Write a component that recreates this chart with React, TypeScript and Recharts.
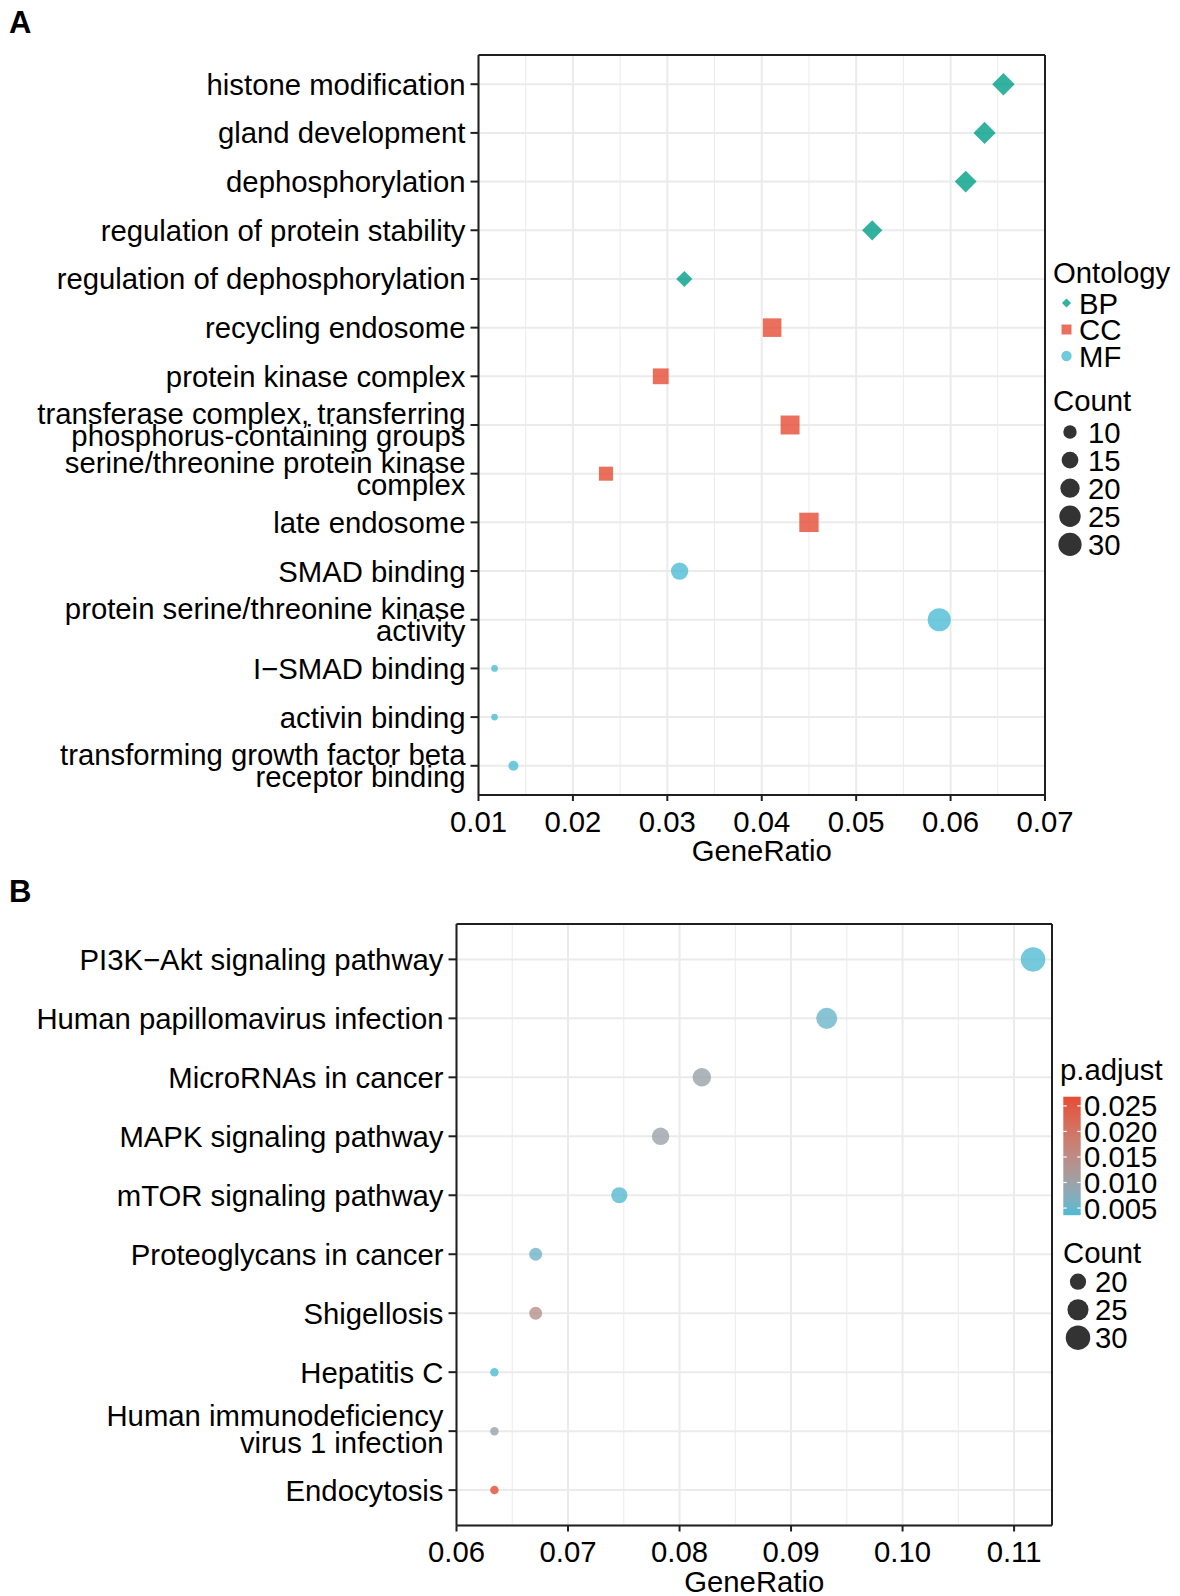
import React from 'react';
import { ScatterChart, Scatter, XAxis, YAxis, CartesianGrid, Legend, ReferenceArea } from 'recharts';

const FONT = '"Liberation Sans", Arial, Helvetica, sans-serif';
const FS = 29.3;
const CAP_MID = 10.5;
const INK = '#000000';
const FRAME = '#1f1f1f';
const GRID = '#EBEBEB';

// ---------- Panel A : GO enrichment ----------
const BP_TERMS = [
  'histone modification',
  'gland development',
  'dephosphorylation',
  'regulation of protein stability',
  'regulation of dephosphorylation',
];
const BP_RATIO = [0.0656, 0.0636, 0.0616, 0.0517, 0.0318];
const BP_COUNT = [33, 32, 31, 26, 16];

const CC_TERMS = [
  'recycling endosome',
  'protein kinase complex',
  'transferase complex, transferring\nphosphorus-containing groups',
  'serine/threonine protein kinase\ncomplex',
  'late endosome',
];
const CC_RATIO = [0.0411, 0.0293, 0.043, 0.0235, 0.045];
const CC_COUNT = [21, 15, 22, 12, 23];

const MF_TERMS = [
  'SMAD binding',
  'protein serine/threonine kinase\nactivity',
  'I\u2212SMAD binding',
  'activin binding',
  'transforming growth factor beta\nreceptor binding',
];
const MF_RATIO = [0.0313, 0.0588, 0.0117, 0.0117, 0.0137];
const MF_COUNT = [16, 30, 6, 6, 7];

const A_TICKS = [0.01, 0.02, 0.03, 0.04, 0.05, 0.06, 0.07];
const A_MINOR = [0.015, 0.025, 0.035, 0.045, 0.055, 0.065];
const A_COUNT_BREAKS = [10, 15, 20, 25, 30];
const ONTOLOGY_KEYS = ['BP', 'CC', 'MF'];

// ---------- Panel B : KEGG enrichment ----------
const KEGG_TERMS = [
  'PI3K\u2212Akt signaling pathway',
  'Human papillomavirus infection',
  'MicroRNAs in cancer',
  'MAPK signaling pathway',
  'mTOR signaling pathway',
  'Proteoglycans in cancer',
  'Shigellosis',
  'Hepatitis C',
  'Human immunodeficiency\nvirus 1 infection',
  'Endocytosis',
];
const KEGG_RATIO = [0.1117, 0.0932, 0.082, 0.0783, 0.0746, 0.0671, 0.0671, 0.0634, 0.0634, 0.0634];
const KEGG_COUNT = [30, 25, 22, 21, 20, 18, 18, 17, 17, 17];
const KEGG_PADJ = [0.0039, 0.0052, 0.0096, 0.0098, 0.004, 0.0056, 0.0142, 0.0036, 0.0097, 0.0268];

const B_TICKS = [0.06, 0.07, 0.08, 0.09, 0.1, 0.11];
const B_MINOR = [0.065, 0.075, 0.085, 0.095, 0.105];
const PADJ_BREAKS = [0.025, 0.02, 0.015, 0.01, 0.005];
const B_COUNT_BREAKS = [20, 25, 30];

// ---------- styles ----------
const BP_COLOR = '#00A087';
const CC_COLOR = '#E64B35';
const MF_COLOR = '#4DBBD5';
const LOW_COLOR = '#4DBBD5';
const HIGH_COLOR = '#E64B35';
const ALPHA = 0.8;
const KEY_DARK = '#333333';

// size scales (diameter in px), area-style like ggplot scale_size
const sizeA = (c: number) => 6.7 + 17.5 * Math.sqrt(Math.max(0, c - 6) / 27);
const sizeB = (c: number) => 8.5 + 16 * Math.sqrt(Math.max(0, c - 17) / 13);

// ---------- Lab colour interpolation ----------
const hexToRgb = (h: string) => [1, 3, 5].map((i) => parseInt(h.slice(i, i + 2), 16));
const toLin = (c: number) => {
  const v = c / 255;
  return v <= 0.04045 ? v / 12.92 : Math.pow((v + 0.055) / 1.055, 2.4);
};
const fromLin = (c: number) => {
  const v = c <= 0.0031308 ? 12.92 * c : 1.055 * Math.pow(c, 1 / 2.4) - 0.055;
  return Math.round(Math.max(0, Math.min(1, v)) * 255);
};
const rgbToLab = (rgb: number[]) => {
  const [R, G, B] = rgb.map(toLin);
  const X = (0.4124 * R + 0.3576 * G + 0.1805 * B) / 0.95047;
  const Y = 0.2126 * R + 0.7152 * G + 0.0722 * B;
  const Z = (0.0193 * R + 0.1192 * G + 0.9505 * B) / 1.08883;
  const f = (t: number) => (t > 0.008856 ? Math.cbrt(t) : 7.787 * t + 16 / 116);
  return [116 * f(Y) - 16, 500 * (f(X) - f(Y)), 200 * (f(Y) - f(Z))];
};
const labToHex = (lab: number[]) => {
  const [L, a, b] = lab;
  const fy = (L + 16) / 116;
  const fx = fy + a / 500;
  const fz = fy - b / 200;
  const inv = (t: number) => (t * t * t > 0.008856 ? t * t * t : (t - 16 / 116) / 7.787);
  const X = inv(fx) * 0.95047;
  const Y = inv(fy);
  const Z = inv(fz) * 1.08883;
  const R = 3.2406 * X - 1.5372 * Y - 0.4986 * Z;
  const G = -0.9689 * X + 1.8758 * Y + 0.0415 * Z;
  const B = 0.0557 * X - 0.204 * Y + 1.057 * Z;
  return '#' + [R, G, B].map((c) => fromLin(c).toString(16).padStart(2, '0')).join('');
};
const LAB_LOW = rgbToLab(hexToRgb(LOW_COLOR));
const LAB_HIGH = rgbToLab(hexToRgb(HIGH_COLOR));
const PADJ_MIN = Math.min(...KEGG_PADJ);
const PADJ_MAX = Math.max(...KEGG_PADJ);
const padjColor = (p: number) => {
  const t = Math.max(0, Math.min(1, (p - PADJ_MIN) / (PADJ_MAX - PADJ_MIN)));
  return labToHex(LAB_LOW.map((v, i) => v + (LAB_HIGH[i] - v) * t));
};

// ---------- data tables ----------
const bpData = BP_TERMS.map((term, i) => ({ term, ratio: BP_RATIO[i], count: BP_COUNT[i] }));
const ccData = CC_TERMS.map((term, i) => ({ term, ratio: CC_RATIO[i], count: CC_COUNT[i] }));
const mfData = MF_TERMS.map((term, i) => ({ term, ratio: MF_RATIO[i], count: MF_COUNT[i] }));
const keggData = KEGG_TERMS.map((term, i) => ({
  term,
  ratio: KEGG_RATIO[i],
  count: KEGG_COUNT[i],
  padj: KEGG_PADJ[i],
}));

// ---------- shapes ----------
const diamondPath = (cx: number, cy: number, h: number) =>
  `M${cx},${cy - h}L${cx + h},${cy}L${cx},${cy + h}L${cx - h},${cy}Z`;

const bpShape = (p: any) => {
  const h = (sizeA(p.payload.count) * 0.93) / 2;
  return <path d={diamondPath(p.cx, p.cy, h)} fill={BP_COLOR} fillOpacity={ALPHA} />;
};
const ccShape = (p: any) => {
  const s = sizeA(p.payload.count) * 0.94;
  return <rect x={p.cx - s / 2} y={p.cy - s / 2} width={s} height={s} fill={CC_COLOR} fillOpacity={ALPHA} />;
};
const mfShape = (p: any) => (
  <circle cx={p.cx} cy={p.cy} r={sizeA(p.payload.count) / 2} fill={MF_COLOR} fillOpacity={ALPHA} />
);
const keggShape = (p: any) => (
  <circle cx={p.cx} cy={p.cy} r={sizeB(p.payload.count) / 2} fill={padjColor(p.payload.padj)} fillOpacity={ALPHA} />
);

// ---------- axis pieces ----------
const fmt2 = (v: number) => v.toFixed(2);

const makeYTick = (lineGap: number, shift: number) => (props: any) => {
  const { x, y, payload } = props;
  const lines = String(payload.value).split('\n');
  const n = lines.length;
  return (
    <text textAnchor="end" fontSize={FS} fontFamily={FONT} fill={INK}>
      {lines.map((l, i) => (
        <tspan key={i} x={x} y={y + CAP_MID + (i - (n - 1) / 2) * lineGap + (n > 1 ? shift : 0)}>
          {l}
        </tspan>
      ))}
    </text>
  );
};
const yTickA = makeYTick(22, -0.5);
const yTickB = makeYTick(27, -2);

const geneRatioLabel = (p: any) => {
  const vb = p.viewBox || { x: 0, y: 0, width: 0 };
  return (
    <text x={vb.x + vb.width / 2} y={vb.y + 66} textAnchor="middle" fontSize={FS} fontFamily={FONT} fill={INK}>
      GeneRatio
    </text>
  );
};

const lineStyle = { stroke: FRAME, strokeWidth: 2 };
const tickText = { fontSize: FS, fill: INK, fontFamily: FONT };

// ---------- legends ----------
const txt = (x: number, y: number, s: string, key?: string) => (
  <text key={key} x={x} y={y} fontSize={FS} fontFamily={FONT} fill={INK}>
    {s}
  </text>
);

const LegendA = () => {
  const keyColors = [BP_COLOR, CC_COLOR, MF_COLOR];
  return (
    <svg width={130} height={310} style={{ overflow: 'visible' }}>
      {txt(3, 32.5, 'Ontology')}
      {ONTOLOGY_KEYS.map((k, i) => {
        const cy = 53 + i * 26.5;
        const cx = 16.5;
        const col = keyColors[i];
        let mark;
        if (k === 'BP') mark = <path d={diamondPath(cx, cy, 4.6)} fill={col} fillOpacity={ALPHA} />;
        else if (k === 'CC')
          mark = <rect x={cx - 5} y={cy - 5} width={10} height={10} fill={col} fillOpacity={ALPHA} />;
        else mark = <circle cx={cx} cy={cy} r={5.2} fill={col} fillOpacity={ALPHA} />;
        return (
          <g key={k}>
            {mark}
            {txt(29, cy + CAP_MID, k)}
          </g>
        );
      })}
      {txt(3, 161, 'Count')}
      {A_COUNT_BREAKS.map((c, i) => {
        const cy = 182 + i * 28.1;
        return (
          <g key={c}>
            <circle cx={20} cy={cy} r={sizeA(c) / 2} fill={KEY_DARK} />
            {txt(38, cy + CAP_MID, String(c))}
          </g>
        );
      })}
    </svg>
  );
};

const BAR_X = 13.3;
const BAR_Y = 46.7;
const BAR_W = 17.4;
const BAR_H = 118.5;
const barY = (v: number) => BAR_Y + BAR_H - ((v - PADJ_MIN) / (PADJ_MAX - PADJ_MIN)) * BAR_H;

const LegendB = () => {
  const stops = Array.from({ length: 11 }, (_, i) => i / 10);
  return (
    <svg width={130} height={300} style={{ overflow: 'visible' }}>
      <defs>
        <linearGradient id="padjGrad" x1="0" y1="1" x2="0" y2="0">
          {stops.map((t) => (
            <stop key={t} offset={t} stopColor={padjColor(PADJ_MIN + t * (PADJ_MAX - PADJ_MIN))} />
          ))}
        </linearGradient>
      </defs>
      {txt(10, 30, 'p.adjust')}
      <rect x={BAR_X} y={BAR_Y} width={BAR_W} height={BAR_H} fill="url(#padjGrad)" />
      {PADJ_BREAKS.map((v) => {
        const y = barY(v);
        return (
          <g key={v}>
            <line x1={BAR_X} x2={BAR_X + 3.5} y1={y} y2={y} stroke="#ffffff" strokeWidth={1.2} />
            <line x1={BAR_X + BAR_W - 3.5} x2={BAR_X + BAR_W} y1={y} y2={y} stroke="#ffffff" strokeWidth={1.2} />
            {txt(34, y + CAP_MID, v.toFixed(3))}
          </g>
        );
      })}
      {txt(13, 213, 'Count')}
      {B_COUNT_BREAKS.map((c, i) => {
        const cy = 231.7 + i * 28;
        return (
          <g key={c}>
            <circle cx={28} cy={cy} r={sizeB(c) / 2} fill={KEY_DARK} />
            {txt(45, cy + CAP_MID, String(c))}
          </g>
        );
      })}
    </svg>
  );
};

// ---------- layout ----------
const A_H = 880;
const A_TOP = 55;
const A_BOTTOM = 795;
const A_PAD = ((A_BOTTOM - A_TOP) / (15 + 0.2)) * 0.1;

const B_OFF = 880;
const B_H = 716;
const B_TOP = 44;
const B_BOTTOM = 645.5;
const B_PAD = ((B_BOTTOM - B_TOP) / (10 + 0.2)) * 0.1;

const A_DOMAIN = [0.01, 0.07];
const B_DOMAIN = [0.06, 0.1134];

export default function App() {
  return (
    <div style={{ position: 'absolute', left: 0, top: 0, width: 1180, height: 1596, background: '#ffffff', fontFamily: FONT }}>
      <svg style={{ position: 'absolute', left: 0, top: 0 }} width={60} height={50}>
        <text x={9} y={33} fontSize={31} fontWeight="bold" fontFamily={FONT} fill={INK}>
          A
        </text>
      </svg>
      <svg style={{ position: 'absolute', left: 0, top: 860 }} width={60} height={50}>
        <text x={9} y={42} fontSize={31} fontWeight="bold" fontFamily={FONT} fill={INK}>
          B
        </text>
      </svg>

      <div style={{ position: 'absolute', left: 0, top: 0, width: 1180, height: A_H }}>
        <ScatterChart width={1180} height={A_H} margin={{ top: A_TOP - 1, right: 134, bottom: 15, left: 0 }}>
          <CartesianGrid stroke={GRID} strokeWidth={1} horizontal={false} verticalValues={A_MINOR} />
          <CartesianGrid stroke={GRID} strokeWidth={2} verticalValues={A_TICKS} />
          <XAxis
            type="number"
            dataKey="ratio"
            domain={A_DOMAIN}
            ticks={A_TICKS}
            allowDataOverflow
            interval={0}
            height={70}
            tickSize={6}
            tickMargin={10}
            tick={tickText}
            tickFormatter={fmt2}
            tickLine={lineStyle}
            axisLine={lineStyle}
            label={{ content: geneRatioLabel }}
          />
          <XAxis xAxisId="top" orientation="top" type="number" domain={[0, 1]} height={1} tick={false} tickLine={false} axisLine={lineStyle} />
          <YAxis
            type="category"
            dataKey="term"
            reversed
            allowDuplicatedCategory={false}
            interval={0}
            width={478.5}
            padding={{ top: A_PAD, bottom: A_PAD }}
            tickSize={8}
            tickMargin={5}
            tick={yTickA}
            tickLine={lineStyle}
            axisLine={lineStyle}
          />
          <YAxis yAxisId="right" orientation="right" type="number" domain={[0, 1]} width={1} tick={false} tickLine={false} axisLine={lineStyle} />
          <ReferenceArea
            x1={A_DOMAIN[0]}
            x2={A_DOMAIN[1]}
            y1={0}
            y2={1}
            yAxisId="right"
            fill="none"
            fillOpacity={0}
            stroke={FRAME}
            strokeWidth={2}
            ifOverflow="visible"
          />
          <Scatter name="BP" data={bpData} shape={bpShape} isAnimationActive={false} />
          <Scatter name="CC" data={ccData} shape={ccShape} isAnimationActive={false} />
          <Scatter name="MF" data={mfData} shape={mfShape} isAnimationActive={false} />
          <Legend
            content={() => <LegendA />}
            layout="horizontal"
            verticalAlign="middle"
            align="center"
            wrapperStyle={{ left: 1050, top: 250, width: 130, height: 310 }}
          />
        </ScatterChart>
      </div>

      <div style={{ position: 'absolute', left: 0, top: B_OFF, width: 1180, height: B_H }}>
        <ScatterChart width={1180} height={B_H} margin={{ top: B_TOP - 1, right: 127, bottom: 0.5, left: 0 }}>
          <CartesianGrid stroke={GRID} strokeWidth={1} horizontal={false} verticalValues={B_MINOR} />
          <CartesianGrid stroke={GRID} strokeWidth={2} verticalValues={B_TICKS} />
          <XAxis
            type="number"
            dataKey="ratio"
            domain={B_DOMAIN}
            ticks={B_TICKS}
            allowDataOverflow
            interval={0}
            height={70}
            tickSize={6}
            tickMargin={10}
            tick={tickText}
            tickFormatter={fmt2}
            tickLine={lineStyle}
            axisLine={lineStyle}
            label={{ content: geneRatioLabel }}
          />
          <XAxis xAxisId="top" orientation="top" type="number" domain={[0, 1]} height={1} tick={false} tickLine={false} axisLine={lineStyle} />
          <YAxis
            type="category"
            dataKey="term"
            reversed
            allowDuplicatedCategory={false}
            interval={0}
            width={456.5}
            padding={{ top: B_PAD, bottom: B_PAD }}
            tickSize={8}
            tickMargin={5}
            tick={yTickB}
            tickLine={lineStyle}
            axisLine={lineStyle}
          />
          <YAxis yAxisId="right" orientation="right" type="number" domain={[0, 1]} width={1} tick={false} tickLine={false} axisLine={lineStyle} />
          <ReferenceArea
            x1={B_DOMAIN[0]}
            x2={B_DOMAIN[1]}
            y1={0}
            y2={1}
            yAxisId="right"
            fill="none"
            fillOpacity={0}
            stroke={FRAME}
            strokeWidth={2}
            ifOverflow="visible"
          />
          <Scatter name="KEGG" data={keggData} shape={keggShape} isAnimationActive={false} />
          <Legend
            content={() => <LegendB />}
            layout="horizontal"
            verticalAlign="middle"
            align="center"
            wrapperStyle={{ left: 1050, top: 170, width: 130, height: 300 }}
          />
        </ScatterChart>
      </div>
    </div>
  );
}
